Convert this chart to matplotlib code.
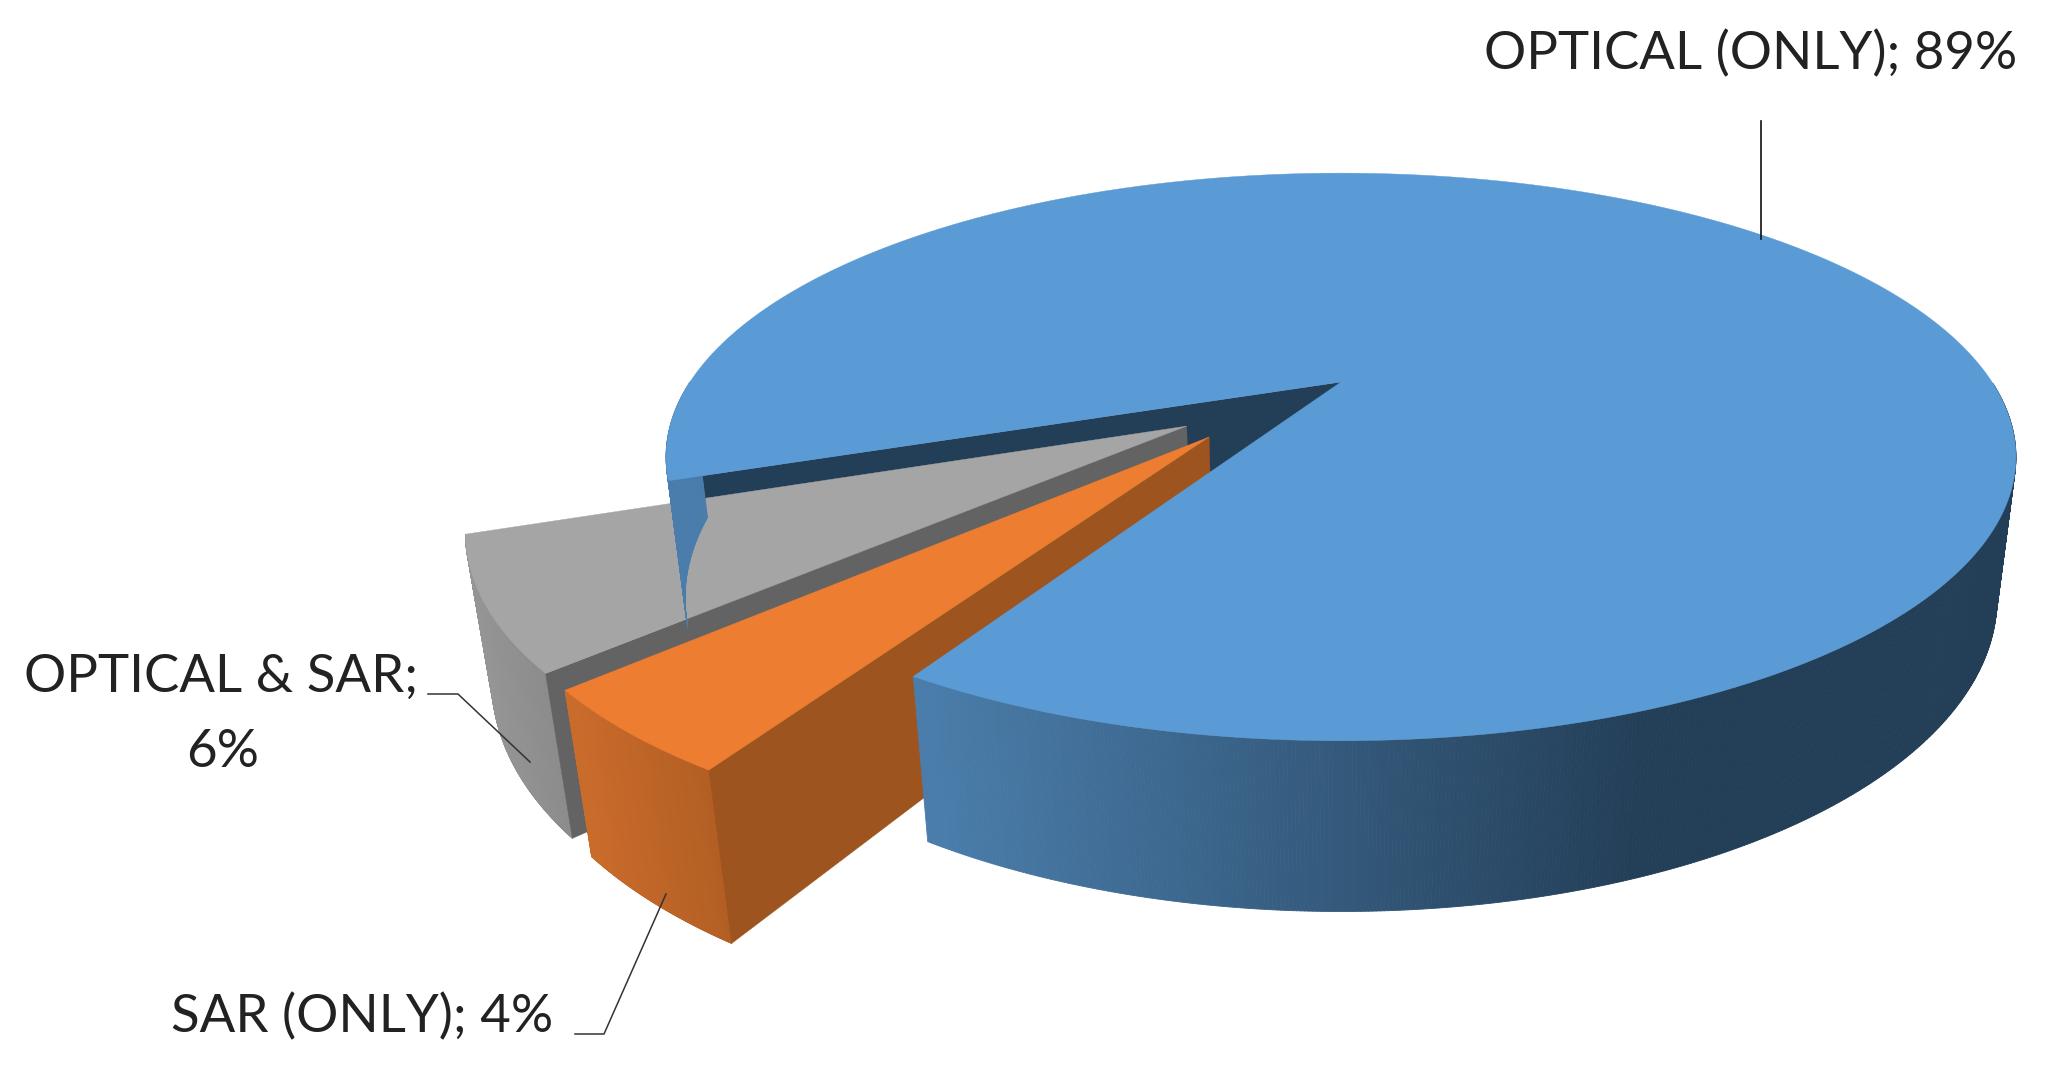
#!/usr/bin/env python3
"""Exploded 3D pie of optical / SAR share, drawn with a small perspective projection."""
import matplotlib

matplotlib.use("Agg")
import matplotlib.pyplot as plt
import numpy as np
from matplotlib.collections import PolyCollection
from matplotlib.colors import to_rgb

CATEGORIES = ["OPTICAL (ONLY)", "SAR (ONLY)", "OPTICAL & SAR"]
VALUES = [89.0, 4.3, 6.7]
TOP_COLORS = ["#5b9bd5", "#ed7d31", "#a5a5a5"]
CUT_COLORS = ["#233e57", "#9e541f", "#636363"]
WALL_LEFT = ["#4a7dab", "#c96b2b", "#959595"]
WALL_RIGHT = ["#233e57", "#ad5c22", "#858585"]
WALL_SPAN = [(930, 1650), (573, 742), (472, 600)]
EXPLODE = [(0.0, 0.0), (-0.192, 0.1975), (-0.227, 0.16)]
START_ANGLE = 160.1

# camera, in pixels of the output image
CX, CY = 1341.0, 382.0
A, B, C = 651.0, 264.0, 140.0
K, M = 0.264, 0.027


def project(u, v, z=0.0):
    w = 1.0 - K * v + M * z
    return CX + A * u / w, CY + (B * v + C * z) / w


def rim(theta, du, dv, z):
    return project(np.cos(theta) + du, np.sin(theta) + dv, z)


def draw_slice(ax, theta0, theta1, idx, zorder):
    du, dv = EXPLODE[idx]
    thetas = np.radians(np.linspace(theta0, theta1, 361))

    # outer wall, thin quads so the shading can run along it
    xt, yt = rim(thetas, du, dv, 0.0)
    xb, yb = rim(thetas, du, dv, 1.0)
    quads, shades = [], []
    left, right = np.array(to_rgb(WALL_LEFT[idx])), np.array(to_rgb(WALL_RIGHT[idx]))
    for i in range(len(thetas) - 1):
        quads.append([(xt[i], yt[i]), (xt[i + 1], yt[i + 1]), (xb[i + 1], yb[i + 1]), (xb[i], yb[i])])
        t = np.clip((xt[i] - WALL_SPAN[idx][0]) / (WALL_SPAN[idx][1] - WALL_SPAN[idx][0]), 0, 1)
        shades.append(left + (right - left) * t)
    ax.add_collection(PolyCollection(quads, facecolors=shades, edgecolors=shades, linewidths=0.6, zorder=zorder))

    # cut face: the grey and orange show it on the start side, the blue on its start side too
    ax_x, ax_y = project(du, dv, 0.0)
    bx_x, bx_y = project(du, dv, 1.0)
    cut = [(ax_x, ax_y), (xt[0], yt[0]), (xb[0], yb[0]), (bx_x, bx_y)]
    ax.fill(*zip(*cut), color=CUT_COLORS[idx], lw=0.3, zorder=zorder + 0.1)

    # top face
    ax.fill(np.r_[ax_x, xt], np.r_[ax_y, yt], color=TOP_COLORS[idx], lw=0.3, zorder=zorder + 0.2)


fig = plt.figure(figsize=(20.5, 10.83), dpi=100)
ax = fig.add_axes([0, 0, 1, 1])
ax.set_xlim(0, 2050)
ax.set_ylim(1083, 0)
ax.axis("off")

spans = [val / sum(VALUES) * 360.0 for val in VALUES]
blue0 = START_ANGLE
blue1 = blue0 + spans[0]
sar0 = blue1 - 360.0
sar1 = sar0 + spans[1]
both1 = sar1 + spans[2]

# navy cut face of the big slice sits behind the exploded pieces
du, dv = EXPLODE[0]
xt, yt = rim(np.radians(blue0), du, dv, 0.0)
xb, yb = rim(np.radians(blue0), du, dv, 1.0)
ax_x, ax_y = project(du, dv, 0.0)
bx_x, bx_y = project(du, dv, 1.0)
ax.fill([ax_x, xt, xb, bx_x], [ax_y, yt, yb, bx_y], color=CUT_COLORS[0], lw=0.3, zorder=1)

# grey: its cut shows on the side facing the orange, which is its low-angle end
draw_slice(ax, sar1, both1, 2, 2)
# orange: cut shows on the side facing the blue
draw_slice(ax, sar0, sar1, 1, 3)

# big slice last, only the wall and the top
thetas = np.radians(np.linspace(blue0, blue1, 1200))
xt, yt = rim(thetas, 0.0, 0.0, 0.0)
xb, yb = rim(thetas, 0.0, 0.0, 1.0)
left, right = np.array(to_rgb(WALL_LEFT[0])), np.array(to_rgb(WALL_RIGHT[0]))
quads, shades = [], []
for i in range(len(thetas) - 1):
    if np.sin(thetas[i]) < 0:
        continue
    quads.append([(xt[i], yt[i]), (xt[i + 1], yt[i + 1]), (xb[i + 1], yb[i + 1]), (xb[i], yb[i])])
    t = np.clip((xt[i] - WALL_SPAN[0][0]) / (WALL_SPAN[0][1] - WALL_SPAN[0][0]), 0, 1)
    shades.append(left + (right - left) * t)
ax.add_collection(PolyCollection(quads, facecolors=shades, edgecolors=shades, linewidths=0.6, zorder=4))
ax.fill(np.r_[ax_x, xt], np.r_[ax_y, yt], color=TOP_COLORS[0], lw=0.3, zorder=5)

# labels and leaders
font = {"family": "Lato", "fontsize": 38, "color": "#222222", "va": "baseline"}
ax.text(1484, 69, f"{CATEGORIES[0]}; 89%", ha="left", **font)
ax.text(24, 692, f"{CATEGORIES[2]};", ha="left", **font)
ax.text(223, 767, "6%", ha="center", **font)
ax.text(171, 1032, f"{CATEGORIES[1]}; 4%", ha="left", **font)

ax.plot([1761, 1761], [121, 239], color="#111111", lw=1.2, zorder=6)
ax.plot([428, 458, 530], [694, 694, 762], color="#333333", lw=1.1, zorder=6)
ax.plot([575, 604, 666], [1034, 1034, 894], color="#333333", lw=1.1, zorder=6)

fig.savefig("out.png", dpi=100)
